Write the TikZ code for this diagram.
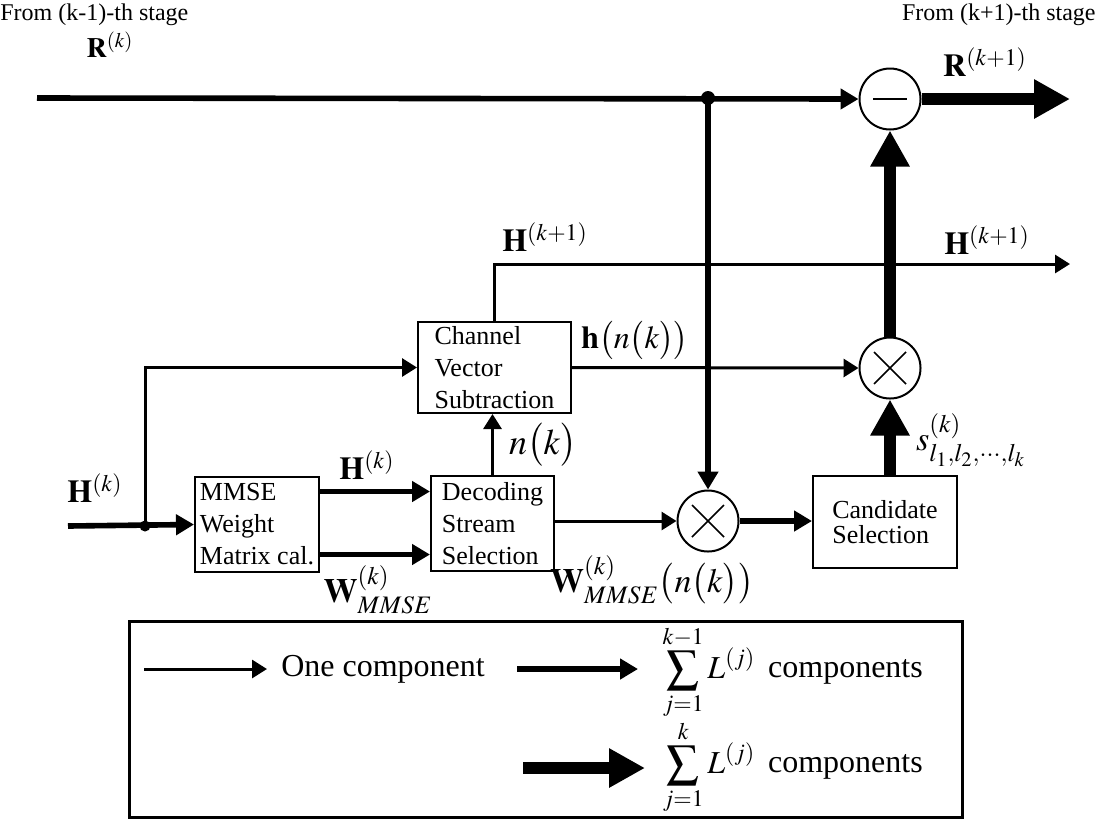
\documentclass[tikz,border=0pt]{standalone}
\usepackage{mathptmx}
\usepackage[no-math]{fontspec}
\setmainfont{Liberation Serif}
\usetikzlibrary{arrows.meta,positioning}

\begin{document}
\begin{tikzpicture}[x=0.5pt,y=-0.5pt,
  blk/.style={draw,line width=1pt,align=left,inner sep=0pt,font=\fontsize{13}{16}\selectfont},
  op/.style={draw,circle,line width=1pt,minimum size=30.5pt,inner sep=0pt},
  mult/.style={op,path picture={
    \draw[line width=0.8pt] ([shift={(-8pt,-8pt)}]path picture bounding box.center) -- ([shift={(8pt,8pt)}]path picture bounding box.center)
      ([shift={(-8pt,8pt)}]path picture bounding box.center) -- ([shift={(8pt,-8pt)}]path picture bounding box.center);}},
  subt/.style={op,path picture={
    \draw[line width=0.8pt] ([xshift=-8.5pt]path picture bounding box.center) -- ([xshift=8.5pt]path picture bounding box.center);}},
  lbl/.style={inner sep=0pt,font=\fontsize{16}{19}\selectfont},
  hdr/.style={inner sep=0pt,font=\fontsize{12}{14}\selectfont},
  one/.style={line width=1.5pt,-{Triangle[length=7.5pt,width=9pt]}},
  some/.style={line width=2.8pt,-{Triangle[length=9pt,width=10pt]}},
  all/.style={line width=6pt,-{Triangle[length=18pt,width=18.5pt]}},
  dot/.style={circle,fill=black,inner sep=0pt,minimum size=#1}]
\useasboundingbox (0,0) rectangle (1096,821);

\node[hdr,anchor=west] (fromL) at (0,15) {From (k-1)-th stage};
\node[hdr,anchor=east] (fromR) at (1096,15) {From (k+1)-th stage};

\node[blk,minimum width=62pt,minimum height=47.5pt] (mmse) at (257,524.5) {MMSE\\Weight\\Matrix cal.};
\node[blk,minimum width=61.5pt,minimum height=47.5pt] (dec) at (492.5,523.5) {Decoding\\Stream\\Selection};
\node[blk,minimum width=76.5pt,minimum height=45.5pt] (chan) at (494.5,367.5) {Channel\\Vector\\Subtraction};
\node[blk,minimum width=72pt,minimum height=46pt] (cand) at (885,522) {Candidate\\[-3.5pt]Selection};

\node[mult] (mulB) at (708,521) {};
\node[mult] (mulA) at (890,368) {};
\node[subt] (sub) at (890,99) {};

\coordinate (rIn) at (37,98);
\coordinate (rOut) at (1070,99);
\coordinate (hIn) at (68,526);
\coordinate (hOut) at (1070,264);
\node[dot=7pt] (jR) at (708,98) {};
\node[dot=5.5pt] (jH) at (145,526) {};

\draw[some] (rIn) -- (sub.west);
\draw[some] (jR.center) -- (mulB.north);
\draw[all] (sub.east) -- (rOut);
\draw[all] (mulA.south |- cand.north) -- (mulA.south);
\draw[all] (mulA.north) -- (sub.south);

\draw[some] (hIn) -- (mmse.west);
\draw[one] (jH.center) |- (chan.west);
\draw[some] ([yshift=16.5pt]mmse.east) -- ([yshift=16.5pt]mmse.east -| dec.west);
\draw[some] ([yshift=-15pt]mmse.east) -- ([yshift=-15pt]mmse.east -| dec.west);
\draw[one] (dec.north) -- (dec.north |- chan.south);
\draw[one] (dec.east |- mulB) -- (mulB.west);
\draw[some] (mulB.east) -- (cand.west |- mulB);
\draw[one] (chan.east) -- (mulA.west);
\draw[one] (chan.north) |- (hOut);

\node[lbl,font=\fontsize{14}{17}\selectfont] (lRk) at (110,45) {$\mathbf{R}^{(k)}$};
\node[lbl] (lRk1) at (985,62) {$\mathbf{R}^{(k+1)}$};
\node[lbl] (lHk1a) at (545,237) {$\mathbf{H}^{(k+1)}$};
\node[lbl] (lHk1b) at (987,240) {$\mathbf{H}^{(k+1)}$};
\node[lbl] (lhn) at (635,340) {$\mathbf{h}\bigl(n\bigl(k\bigr)\bigr)$};
\node[lbl,font=\fontsize{18}{21}\selectfont] (lnk) at (543,445) {$n\bigl(k\bigr)$};
\node[lbl,font=\fontsize{17}{20}\selectfont] (ls) at (971,440) {$s^{(k)}_{l_1,l_2,\cdots,l_k}$};
\node[lbl] (lHkL) at (95,488) {$\mathbf{H}^{(k)}$};
\node[lbl] (lHkM) at (367,465) {$\mathbf{H}^{(k)}$};
\node[lbl,font=\fontsize{17}{20}\selectfont] (lW) at (378,590) {$\mathbf{W}^{(k)}_{MMSE}$};
\node[lbl,font=\fontsize{17}{20}\selectfont] (lWn) at (652,580) {$\mathbf{W}^{(k)}_{MMSE}\bigl(n\bigl(k\bigr)\bigr)$};

\draw[line width=1.5pt] (129,621) rectangle (962,817);
\coordinate (a1) at (144,669);
\coordinate (b1) at (267,669);
\coordinate (a2) at (517,669);
\coordinate (b2) at (638,669);
\coordinate (a3) at (523,768);
\coordinate (b3) at (645,768);
\draw[one] (a1) -- (b1);
\draw[some] (a2) -- (b2);
\draw[all] (a3) -- (b3);
\node[lbl] (oneTxt) at (383,669) {One component};
\node[lbl] (sumA) at (709,672) {$\displaystyle\sum_{j=1}^{k-1}L^{(j)}$};
\node[lbl,right=6pt of sumA] (compA) {components};
\node[lbl] (sumB) at (709,767) {$\displaystyle\sum_{j=1}^{k}L^{(j)}$};
\node[lbl,right=6pt of sumB] (compB) {components};
\end{tikzpicture}
\end{document}
